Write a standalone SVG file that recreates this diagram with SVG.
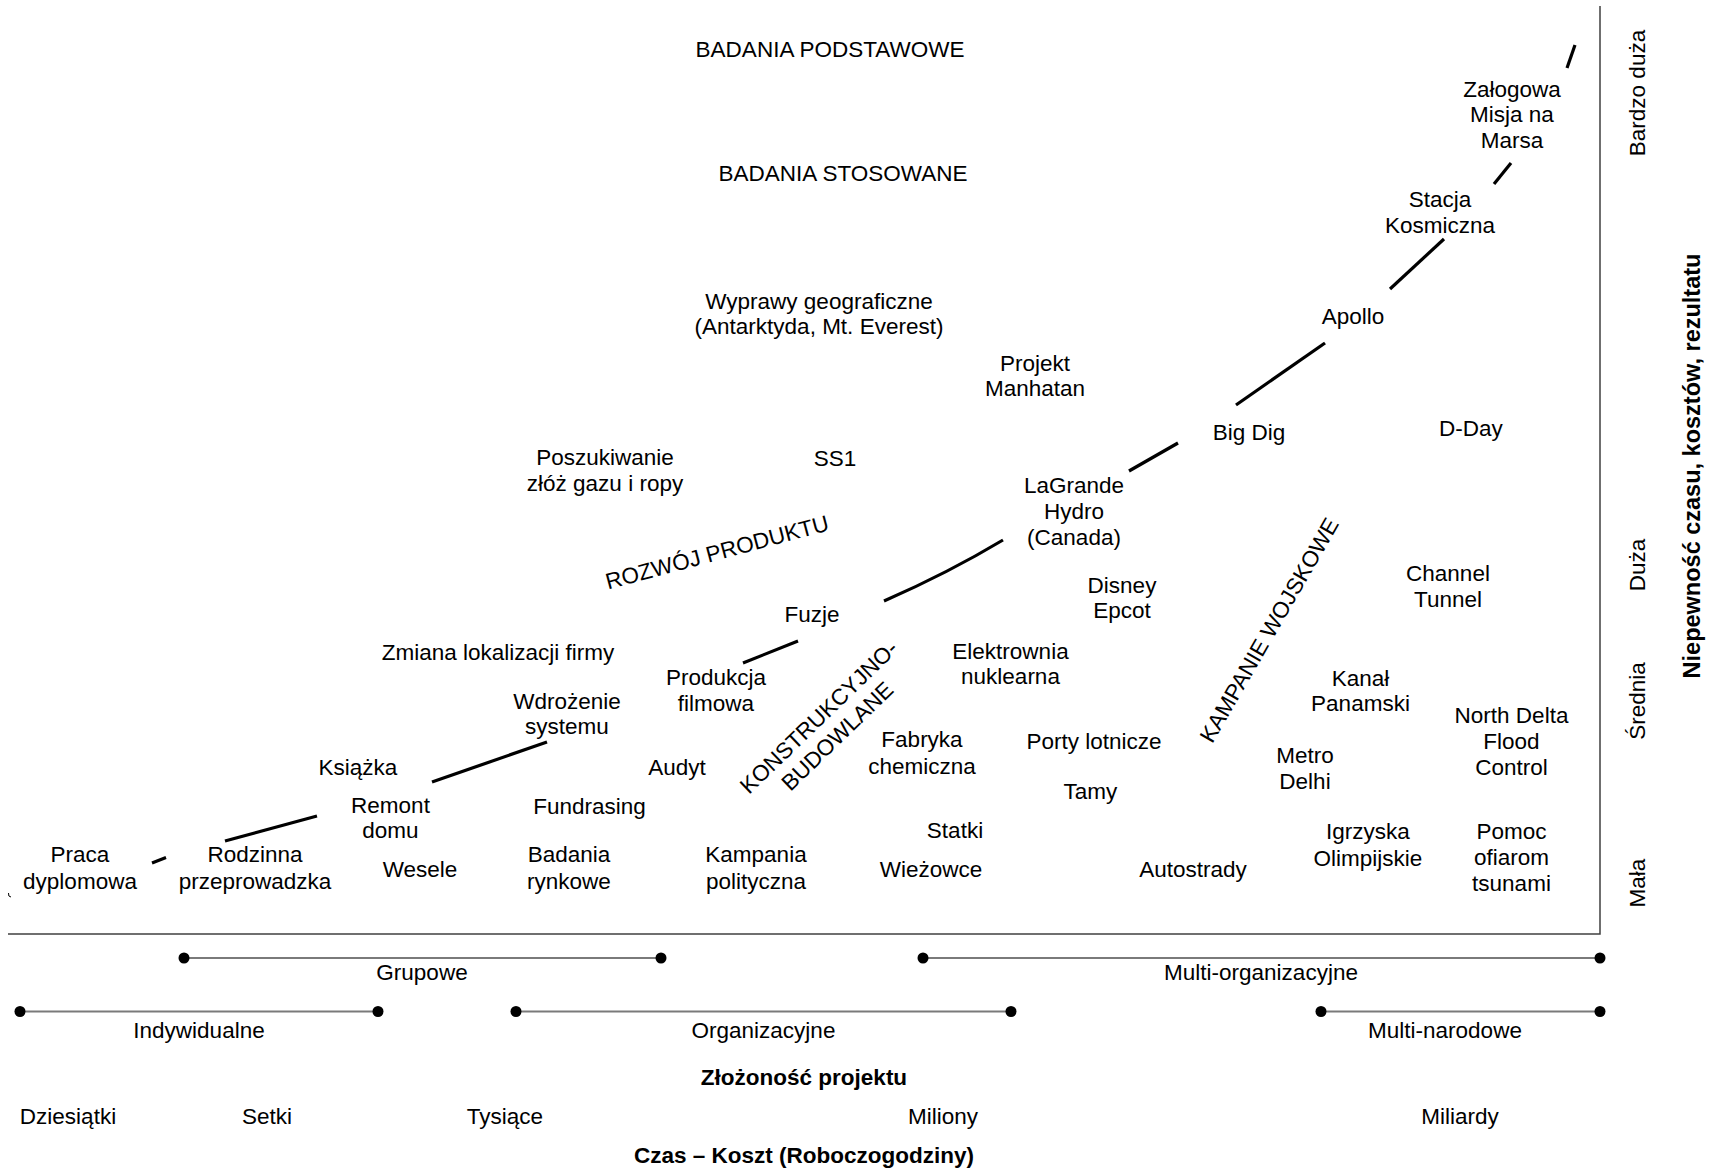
<svg xmlns="http://www.w3.org/2000/svg" width="1715" height="1169" viewBox="0 0 1715 1169">
<style>
text{font-family:"Liberation Sans",Arial,sans-serif;font-size:22.5px;fill:#000;text-anchor:middle}
.b{font-weight:bold}
.side{font-size:23.5px}
.ax{stroke:#404040;stroke-width:1.5;fill:none}
.bar{stroke:#7a7a7a;stroke-width:2.2}
.dot{fill:#000}
.seg{stroke:#000;stroke-width:3.2;fill:none;stroke-linecap:butt}
</style>
<rect width="1715" height="1169" fill="#fff"/>
<g id="axes">
<path class="ax" d="M1600 6 V934 H8"/>
<path d="M8.5 893 Q8 897 11 897" stroke="#000" stroke-width="1" fill="none"/>
</g>
<g id="connectors">
<line class="seg" x1="152" y1="863" x2="166" y2="857.5"/>
<line class="seg" x1="225" y1="841" x2="317" y2="816"/>
<line class="seg" x1="432" y1="782" x2="547" y2="742"/>
<line class="seg" x1="743" y1="663" x2="798" y2="641"/>
<path class="seg" d="M884 601 Q948 573 1003 540"/>
<line class="seg" x1="1129" y1="471" x2="1178" y2="443"/>
<line class="seg" x1="1236" y1="405" x2="1325" y2="343"/>
<line class="seg" x1="1390" y1="289" x2="1444" y2="239"/>
<line class="seg" x1="1494" y1="184" x2="1511" y2="163"/>
<line class="seg" x1="1567" y1="68" x2="1575" y2="45"/>
</g>
<g id="n-badania-podstawowe"><text x="830" y="57">BADANIA PODSTAWOWE</text></g>
<g id="n-badania-stosowane"><text x="843" y="181">BADANIA STOSOWANE</text></g>
<g id="n-wyprawy"><text x="819" y="309">Wyprawy geograficzne</text><text x="819" y="334">(Antarktyda, Mt. Everest)</text></g>
<g id="n-manhatan"><text x="1035" y="371">Projekt</text><text x="1035" y="396">Manhatan</text></g>
<g id="n-poszukiwanie"><text x="605" y="465">Poszukiwanie</text><text x="605" y="491">złóż gazu i ropy</text></g>
<g id="n-ss1"><text x="835" y="466">SS1</text></g>
<g id="n-mars"><text x="1512" y="97">Załogowa</text><text x="1512" y="122">Misja na</text><text x="1512" y="148">Marsa</text></g>
<g id="n-stacja"><text x="1440" y="207">Stacja</text><text x="1440" y="233">Kosmiczna</text></g>
<g id="n-apollo"><text x="1353" y="324">Apollo</text></g>
<g id="n-bigdig"><text x="1249" y="440">Big Dig</text></g>
<g id="n-dday"><text x="1471" y="436">D-Day</text></g>
<g id="n-lagrande"><text x="1074" y="492.5">LaGrande</text><text x="1074" y="518.5">Hydro</text><text x="1074" y="545">(Canada)</text></g>
<g id="n-rozwoj"><text transform="translate(717 552) rotate(-15)" y="8">ROZWÓJ PRODUKTU</text></g>
<g id="n-fuzje"><text x="812" y="621.5">Fuzje</text></g>
<g id="n-zmiana"><text x="498" y="660">Zmiana lokalizacji firmy</text></g>
<g id="n-produkcja"><text x="716" y="685">Produkcja</text><text x="716" y="711">filmowa</text></g>
<g id="n-wdrozenie"><text x="567" y="709">Wdrożenie</text><text x="567" y="734">systemu</text></g>
<g id="n-ksiazka"><text x="358" y="775">Książka</text></g>
<g id="n-audyt"><text x="677" y="775">Audyt</text></g>
<g id="n-remont"><text x="390.5" y="813">Remont</text><text x="390.5" y="838">domu</text></g>
<g id="n-fundrasing"><text x="589.5" y="814">Fundrasing</text></g>
<g id="n-praca"><text x="80" y="862">Praca</text><text x="80" y="888.5">dyplomowa</text></g>
<g id="n-rodzinna"><text x="255" y="862">Rodzinna</text><text x="255" y="888.5">przeprowadzka</text></g>
<g id="n-wesele"><text x="420" y="876.5">Wesele</text></g>
<g id="n-badania-rynkowe"><text x="569" y="862">Badania</text><text x="569" y="888.5">rynkowe</text></g>
<g id="n-kampania"><text x="756" y="862">Kampania</text><text x="756" y="888.5">polityczna</text></g>
<g id="n-konstrukcyjno"><g transform="translate(828 726.5) rotate(-44)"><text y="-5.5">KONSTRUKCYJNO-</text><text y="21">BUDOWLANE</text></g></g>
<g id="n-disney"><text x="1122" y="593">Disney</text><text x="1122" y="618">Epcot</text></g>
<g id="n-channel"><text x="1448" y="581">Channel</text><text x="1448" y="607">Tunnel</text></g>
<g id="n-elektrownia"><text x="1010.5" y="659">Elektrownia</text><text x="1010.5" y="684">nuklearna</text></g>
<g id="n-kampanie-wojskowe"><text transform="translate(1269 630) rotate(-60)" y="8">KAMPANIE WOJSKOWE</text></g>
<g id="n-kanal"><text x="1360.5" y="686">Kanał</text><text x="1360.5" y="711">Panamski</text></g>
<g id="n-northdelta"><text x="1511.5" y="723">North Delta</text><text x="1511.5" y="748.5">Flood</text><text x="1511.5" y="774.5">Control</text></g>
<g id="n-fabryka"><text x="922" y="747">Fabryka</text><text x="922" y="773.5">chemiczna</text></g>
<g id="n-porty"><text x="1094" y="748.5">Porty lotnicze</text></g>
<g id="n-metro"><text x="1305" y="762.5">Metro</text><text x="1305" y="789">Delhi</text></g>
<g id="n-tamy"><text x="1090.5" y="799">Tamy</text></g>
<g id="n-statki"><text x="955" y="838">Statki</text></g>
<g id="n-igrzyska"><text x="1368" y="839">Igrzyska</text><text x="1368" y="865.5">Olimpijskie</text></g>
<g id="n-pomoc"><text x="1511.5" y="839">Pomoc</text><text x="1511.5" y="864.5">ofiarom</text><text x="1511.5" y="890.5">tsunami</text></g>
<g id="n-wiezowce"><text x="931" y="876.5">Wieżowce</text></g>
<g id="n-autostrady"><text x="1193" y="876.5">Autostrady</text></g>
<g id="y-axis-labels">
<text transform="translate(1645 93) rotate(-90)">Bardzo duża</text>
<text transform="translate(1645 565) rotate(-90)">Duża</text>
<text transform="translate(1645 701) rotate(-90)">Średnia</text>
<text transform="translate(1645 883) rotate(-90)">Mała</text>
<text class="b side" transform="translate(1700 466) rotate(-90)">Niepewność czasu, kosztów, rezultatu</text>
</g>
<g id="bar-grupowe"><line class="bar" x1="184" y1="958" x2="661" y2="958"/><circle class="dot" cx="184" cy="958" r="5.5"/><circle class="dot" cx="661" cy="958" r="5.5"/><text x="422" y="980">Grupowe</text></g>
<g id="bar-multi-org"><line class="bar" x1="923" y1="958" x2="1600" y2="958"/><circle class="dot" cx="923" cy="958" r="5.5"/><circle class="dot" cx="1600" cy="958" r="5.5"/><text x="1261" y="980">Multi-organizacyjne</text></g>
<g id="bar-indywidualne"><line class="bar" x1="20" y1="1011.5" x2="378" y2="1011.5"/><circle class="dot" cx="20" cy="1011.5" r="5.5"/><circle class="dot" cx="378" cy="1011.5" r="5.5"/><text x="199" y="1038">Indywidualne</text></g>
<g id="bar-organizacyjne"><line class="bar" x1="516" y1="1011.5" x2="1011" y2="1011.5"/><circle class="dot" cx="516" cy="1011.5" r="5.5"/><circle class="dot" cx="1011" cy="1011.5" r="5.5"/><text x="763.5" y="1038">Organizacyjne</text></g>
<g id="bar-multi-narodowe"><line class="bar" x1="1321" y1="1011.5" x2="1600" y2="1011.5"/><circle class="dot" cx="1321" cy="1011.5" r="5.5"/><circle class="dot" cx="1600" cy="1011.5" r="5.5"/><text x="1445" y="1038">Multi-narodowe</text></g>
<g id="x-axis-labels">
<text class="b" x="804" y="1085">Złożoność projektu</text>
<text x="68" y="1124">Dziesiątki</text>
<text x="267" y="1124">Setki</text>
<text x="505" y="1124">Tysiące</text>
<text x="943" y="1124">Miliony</text>
<text x="1460" y="1124">Miliardy</text>
<text class="b" x="804" y="1163">Czas – Koszt (Roboczogodziny)</text>
</g>
</svg>
